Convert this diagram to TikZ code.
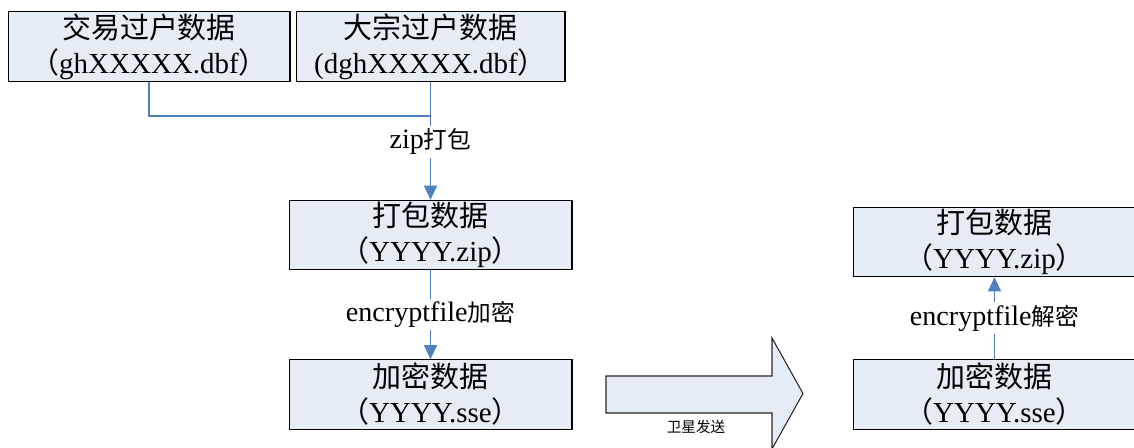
\documentclass[tikz,border=0pt]{standalone}
\usepackage{fontspec}
\setmainfont{Liberation Serif}
\newfontfamily\cjk{Noto Sans CJK SC}
\usetikzlibrary{arrows.meta}
\definecolor{boxfill}{RGB}{230,236,246}
\definecolor{linkblue}{RGB}{79,129,189}
\newcommand\zh[1]{{\cjk #1}}
\newcommand\zs[1]{{\cjk\fontsize{13.5}{16}\selectfont #1}}

\begin{document}
\begin{tikzpicture}[x=0.02cm,y=-0.02cm,
    datbox/.style={draw=black,line width=0.6pt,fill=boxfill,inner sep=0pt,align=center,
      minimum height=1.39cm,font=\fontsize{16.5}{20}\selectfont},
    link/.style={draw=linkblue,line width=0.6pt},
    tip/.style={-{Triangle[length=0.28cm,width=0.26cm]}},
    lbl/.style={fill=white,inner sep=1.5pt,font=\fontsize{16}{18}\selectfont}]
  \path[use as bounding box,fill=white] (0,0) rectangle (1134,448);

  \node[datbox,minimum width=5.64cm] (J) at (149,46.5) {\zh{交易过户数据}\\\zh{（}ghXXXXX.dbf\zh{）}};
  \node[datbox,minimum width=5.38cm] (D) at (430.5,46.5) {\zh{大宗过户数据}\\(dghXXXXX.dbf\zh{）}};
  \node[datbox,minimum width=5.66cm] (Z) at (430.5,235) {\zh{打包数据}\\\zh{（}YYYY.zip\zh{）}};
  \node[datbox,minimum width=5.66cm] (E) at (430.5,394.5) {\zh{加密数据}\\\zh{（}YYYY.sse\zh{）}};
  \node[datbox,minimum width=5.66cm] (Z2) at (994.5,242) {\zh{打包数据}\\\zh{（}YYYY.zip\zh{）}};
  \node[datbox,minimum width=5.66cm] (E2) at (994.5,394.5) {\zh{加密数据}\\\zh{（}YYYY.sse\zh{）}};
  \coordinate (M) at (430.5,116);

  \draw[link] (J.south) |- (M) -- (D.south);
  \draw[link,tip] (M) -- node[lbl,pos=0.31] {zip\zs{打包}} (Z.north);
  \draw[link,tip] (Z.south) -- node[lbl] {encryptfile\zs{加密}} (E.north);
  \draw[link,tip] (E2.north) -- node[lbl] {encryptfile\zs{解密}} (Z2.south);

  \draw[black!85,line width=0.6pt,fill=boxfill] (606,376) -- (772,376) -- (772,338) -- (803,393.5)
    -- (772,449) -- (772,413) -- (606,413) -- cycle;
  \node (S) at (696,427) {\cjk\fontsize{8.3}{10}\selectfont 卫星发送};
\end{tikzpicture}
\end{document}
